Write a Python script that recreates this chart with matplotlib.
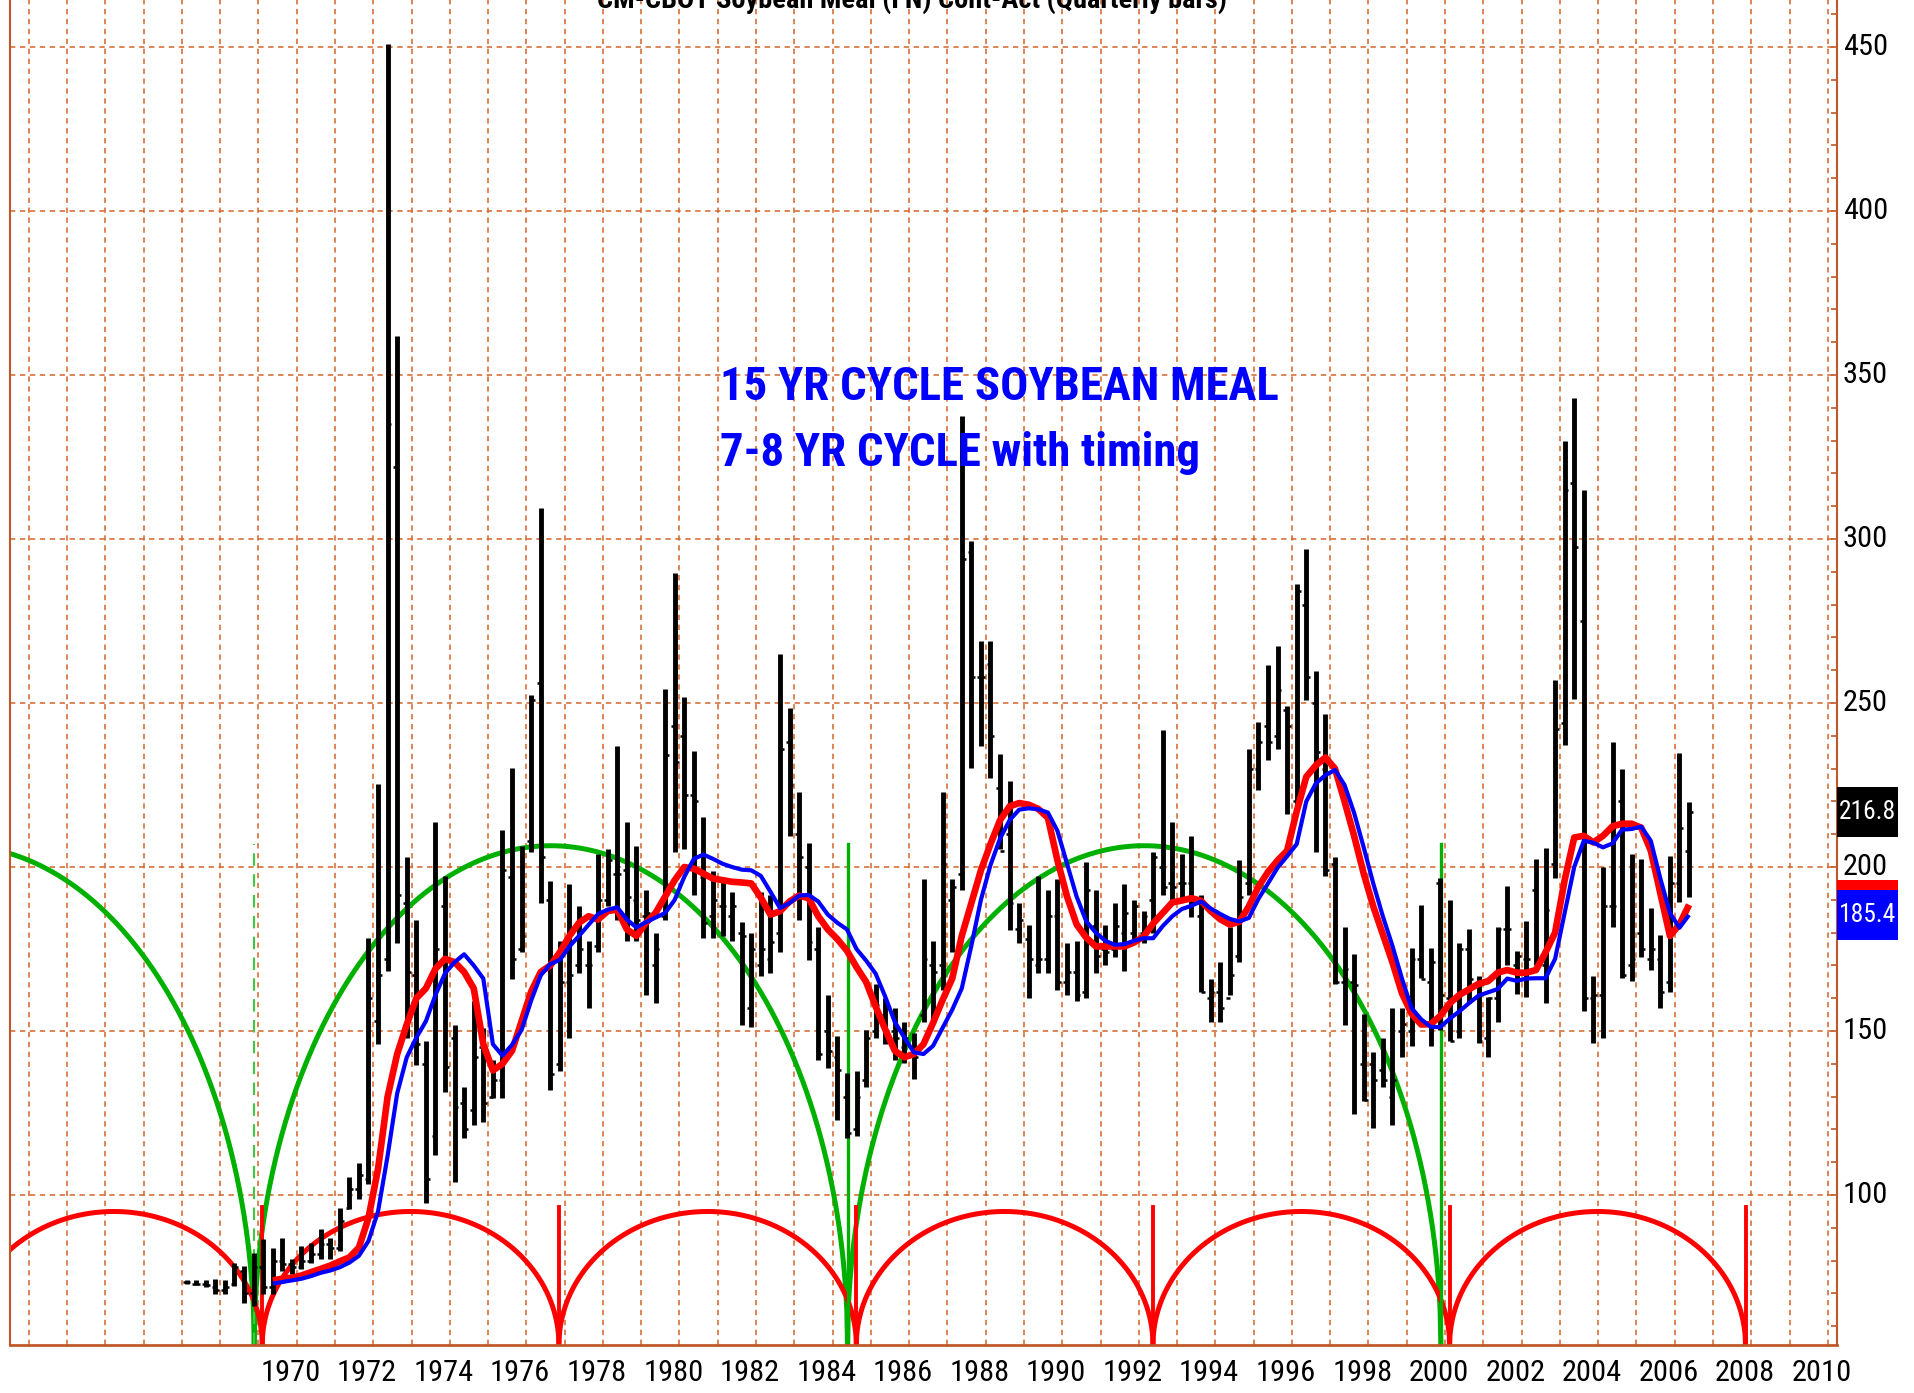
import matplotlib
matplotlib.use('Agg')
import matplotlib.pyplot as plt
import matplotlib.transforms as mtransforms
from matplotlib.patches import Rectangle
from matplotlib import font_manager
from matplotlib.font_manager import FontProperties
import numpy as np

# ---------------- data (quarterly bars, Q1 1968 .. Q2 2007) ----------------
first_year = 1968
high = [74, 74, 74, 74.3,  74, 79.4, 78.4, 82.4,  86.5, 84, 87, 80.4,  84.4, 85.5, 89.6, 87,
        96.2, 105.4, 109.9, 178.3,  225.3, 451, 362, 203,  184, 147, 213.8, 197.3,
        151.9, 133, 159.3, 151,  141.2, 211.3, 230.2, 206.3,  252.5, 309.4, 195.6, 177.5,
        194.8, 188.2, 177.5, 203.9,  205.5, 236.8, 213.8, 206.3,  193.1, 180, 254.2, 289.6,
        251.9, 235.5, 215.4, 198.9,  196.4, 192.3, 183.2, 180,  192.3, 191.5, 264.9, 248.4,
        222.8, 207.2, 181.6, 161,  148.6, 137.1, 137.9, 150.3,  164.3, 160.2, 156.9, 152.8,
        149.5, 196.4, 177.5, 222.8,  196.4, 337.4, 299.5, 269,  269, 234.4, 226.1, 189,
        182.4, 197.3, 193.1, 196.4,  176.7, 177.5, 201.4, 193.1,  182.4, 189, 194.8, 189.8,
        186.6, 204.7, 241.8, 213.8,  203.9, 209.6, 191.5, 166,  170.9, 181.6, 202.2, 236,
        244.3, 261.6, 267.4, 249.2,  286.3, 297, 259.9, 246.7,  203, 181.6, 173.4, 155.2,
        143.7, 147.8, 156.9, 156.9,  175.2, 188.4, 175.2, 196.7,  190.1, 176.9, 181, 166.9,
        160.3, 181.8, 194.2, 174.4,  183.5, 202.5, 205.8, 257,  329.8, 343, 314.9, 166.9,
        200, 238, 229.8, 204.1,  202.5, 187.6, 179.3, 203.3,  234.7, 219.8]
low = [73, 72.5, 72, 69.7,  69.7, 72.3, 67.2, 66.2,  69.7, 69.7, 77, 76,  77.4, 79.4, 80.4, 80.4,
       83, 95.7, 98.7, 103.3,  146.1, 168.4, 176.7, 147.8,  139.6, 97.5, 112.3, 131.3,
       104, 117.3, 121.4, 122.2,  129.7, 129.7, 166, 174.2,  204.7, 189, 132, 137.9,
       147.8, 167.6, 156.9, 174.2,  188.2, 184, 177.5, 177.5,  161, 158.5, 184, 204.7,
       205.5, 191.5, 178.3, 178.3,  179.1, 177.5, 151.9, 151.1,  166.8, 167.6, 174.2, 209.6,
       184, 171.7, 141.2, 138.7,  123, 117.3, 118.1, 132.9,  147.8, 146.1, 141.2, 140.4,
       135.5, 152.8, 152.8, 162.6,  174.2, 193.1, 230.2, 236.8,  227, 205.5, 180.8, 176.7,
       160.2, 167.6, 167.6, 162.6,  161, 159.3, 160.2, 167.6,  170, 172.5, 168.4, 177.5,
       176.7, 180, 191.5, 189,  189.8, 184.9, 161.8, 152.7,  152.7, 161, 170.9, 191.5,
       223.6, 232.7, 236, 216.2,  218.7, 250.9, 204.7, 197.3,  164.3, 151.9, 124.7, 128.8,
       120.6, 132.9, 121.4, 142,  145.5, 166.1, 145.5, 150.4,  147.1, 147.9, 158.7, 146.3,
       142.1, 152.9, 170.2, 161.2,  160.3, 170.2, 158.7, 196.7,  237.2, 251.2, 156.2, 146.3,
       147.9, 181.8, 166.1, 165.3,  172.7, 168.6, 157, 162,  189.3, 190.9]
open_ = [73.5, 73, 73, 72,  71, 73, 77, 70,  78, 72, 80, 79,  78, 80, 82, 85,
         84, 96, 102, 105,  153, 172, 322, 189,  167, 140, 118, 188,
         148, 128, 126, 145,  130, 135, 197, 175,  208, 256, 190, 140,
         165, 170, 170, 176,  190, 198, 199, 190,  185, 170, 185, 243,
         240, 222, 197, 185,  188, 185, 180, 157,  170, 172, 180, 238,
         210, 200, 175, 150,  142, 130, 120, 135,  150, 155, 150, 145,
         145, 155, 170, 170,  190, 198, 296, 258,  262, 224, 210, 181,
         178, 170, 172, 185,  165, 168, 162, 182,  175, 175, 180, 180,
         180, 190, 200, 195,  195, 195, 185, 160,  162, 160, 173, 195,
         230, 243, 240, 248,  220, 280, 250, 230,  201, 165, 165, 140,
         140, 138, 130, 150,  150, 172, 165, 195,  160, 150, 175, 160,
         148, 160, 181, 170,  172, 193, 170, 201,  244, 317, 275, 160,
         161, 188, 220, 170,  180, 172, 172, 165,  195, 205]
close = [73.5, 73, 72.5, 71,  72, 78, 70, 78,  72, 80, 79, 78,  80, 82, 85, 84,
         92, 102, 106, 160,  167, 335, 191.5, 168,  146, 105, 175, 139,
         127, 120, 142, 128,  135, 199, 172, 179,  251, 203, 137, 165,
         167, 175, 170, 190,  202, 198, 191, 184,  186, 175, 234, 232,
         222, 220, 183, 190,  188, 188, 179, 175,  175, 177, 236, 225,
         203, 177, 143, 144,  138, 119, 130, 148,  158, 150, 148, 148,
         142, 172, 168, 201,  194, 294, 258, 258,  240, 205, 189, 184,
         172, 172, 185, 165,  168, 161, 193, 173,  174, 182, 186, 188,
         185, 203, 194, 194,  195, 189, 162, 162,  157, 167, 191, 230,
         238, 238, 254, 243,  284, 258, 235, 199,  165, 169, 164, 129,
         135, 135, 135, 152,  172, 166, 171, 161,  147, 175, 166, 147,
         160, 181, 181, 173,  172, 172, 187, 242,  315, 297.5, 160, 161,
         188, 188, 167, 172,  175, 175, 162, 195,  212, 216.8]

# moving averages, Q2 1970 .. Q2 2007
ma_start_index = 9
red_ma = [74, 74.5, 74.8,  75.5, 76.5, 77.5, 78.5,  79.8, 81, 84, 93,  108, 130, 143, 152,
          160, 163, 169, 172,  171, 168, 163, 146,  138, 140, 144, 153,  162, 168, 170, 174,
          179, 183, 185, 184,  186.6, 187, 181, 179,  183, 186, 191, 196,  200, 199.5, 198, 196.5,
          196, 195.5, 195.3, 195,  190.7, 185.5, 186.5, 189.5,  191.3, 190.5, 185, 181,
          178, 174.5, 169.5, 165,  157.5, 150.5, 144, 142,  143, 146, 152.5, 159.5,
          166, 179, 189, 199,  207, 214.3, 218.5, 219.5,  219, 217.7, 215, 202,
          191, 182.5, 178.5, 175.8,  175.8, 175.8, 175.8, 177,  178.8, 182.8, 186, 189.2,
          189.8, 190.5, 189.7, 186.6,  184.1, 182.5, 183.3, 188,  194, 198.5, 202, 205,
          217, 227.5, 231, 233.4,  230, 220, 209.5, 198,  188, 179.5, 171, 161.5,
          155.3, 152, 152.1, 154.6,  158.5, 161, 162.7, 164.4,  165.2, 167.8, 168.6, 167.8,
          167.8, 168.6, 174, 180,  196, 209, 209.5, 207.5,  209.5, 212.4, 213.2, 213.2,
          212, 205, 192, 179,  182.5, 188.5]
blue_ma = [73, 73.5, 74,  74.5, 75.3, 76.3, 77,  78, 79.4, 81.5, 86,  95, 112, 131, 142,
           148, 153, 161, 167.6,  171, 173.4, 170, 166,  146, 142.5, 145.8, 150.3,
           159.3, 167, 170.4, 171.7,  175.8, 179, 182.4, 185.7,  187, 187.7, 184, 181.6,
           183.2, 184.6, 186, 190,  197, 202.5, 203.8, 202.5,  201, 200, 199.2, 199,
           197.3, 192.5, 187.5, 189,  191.3, 191.5, 189.5, 185.5,  183, 181, 175, 171.5,
           167.5, 160.5, 152.8, 148,  143.5, 143, 145.5, 151,  156.5, 163, 176, 190,
           200.6, 208.7, 214.3, 217.5,  217.9, 217.6, 216.6, 211,  201, 191, 183.5, 180,
           177.5, 176.3, 176.5, 177.5,  178.3, 178.3, 182, 185,  187.2, 188.2, 189.5, 187.4,
           185.7, 184.2, 183.4, 184.5,  190.3, 195, 199.8, 203.3,  207, 220, 225.5, 228,
           229.6, 225, 216.5, 206,  195, 185, 176, 166,  157, 153.6, 151.3, 151.2,
           153.8, 156, 158.5, 160.8,  161.8, 162.8, 166, 165.3,  166, 166.1, 166.1, 172,
           186, 200, 208, 207.4,  206, 207.2, 211.4, 211.6,  212.3, 208, 196.5, 186,
           181.5, 185.4]

# cycle timing (trough dates, in years) and arc heights
red_troughs = [1962.35, 1970.1, 1977.85, 1985.62, 1993.37, 2001.12, 2008.85]
red_arc_peak = 95.0
green_troughs = [1954.39, 1969.89, 1985.39, 2000.89]
green_arc_peak = 206.5

last_close_label = 216.8
red_label = 188.5
blue_label = 185.4

year_labels = list(range(1970, 2011, 2))
y_ticks = [100, 150, 200, 250, 300, 350, 400, 450]

title_text = 'CM-CBOT Soybean Meal (FN) Cont-Act (Quarterly bars)'
note_lines = ['15 YR CYCLE SOYBEAN MEAL', '7-8 YR CYCLE with timing']


# ---------------- fonts: prefer a narrow sans face ----------------
def _stretch_val(st):
    if isinstance(st, (int, float)):
        return st
    return {'ultra-condensed': 100, 'extra-condensed': 200, 'condensed': 300,
            'semi-condensed': 400, 'normal': 500}.get(str(st), 500)


def _weight_val(w):
    if isinstance(w, (int, float)):
        return w
    return {'bold': 700, 'semibold': 600, 'demibold': 600, 'heavy': 800, 'black': 900,
            'light': 300, 'normal': 400, 'regular': 400, 'medium': 500}.get(str(w), 400)


def pick_font(bold):
    pref = ['liberation sans narrow', 'roboto condensed', 'noto sans', 'open sans',
            'dejavu sans', 'lato', 'inter']
    best, best_score = None, None
    for f in font_manager.fontManager.ttflist:
        nm = f.name.lower()
        fn = f.fname.lower()
        sv = _stretch_val(f.stretch)
        narrow = ('narrow' in nm or 'condensed' in nm or 'narrow' in fn or
                  'condensed' in fn or sv < 500)
        if not narrow:
            continue
        if 'mono' in nm or 'cjk' in nm or 'serif' in nm or 'italic' in str(f.style).lower() \
                or 'italic' in fn:
            continue
        if 'extracondensed' in fn or 'extra-condensed' in fn or 'ultra' in fn:
            continue
        w = _weight_val(f.weight)
        score = abs(w - (700 if bold else 400))
        rank = len(pref)
        for i, p in enumerate(pref):
            if nm.startswith(p):
                rank = i
                break
        score += rank * 10
        if 'semicondensed' in fn or 'semi' in fn:
            score += 5
        if best_score is None or score < best_score:
            best, best_score = f, score
    if best is not None:
        return FontProperties(fname=best.fname)
    return FontProperties(family='Liberation Sans', weight='bold' if bold else 'normal')


FP = pick_font(False)
FPB = pick_font(True)

# ---------------- drawing ----------------
GRID = '#D2642A'
FRAME = '#C0582A'

fig = plt.figure(figsize=(19.14, 13.93), dpi=100)
ax = fig.add_axes([10 / 1914, 48 / 1393, 1827 / 1914, 1345 / 1393])
XMIN, XMAX = 1963.51, 2011.24
YMIN, YMAX = 54.3, 464.3
ax.set_xlim(XMIN, XMAX)
ax.set_ylim(YMIN, YMAX)
renderer = fig.canvas.get_renderer()

n = len(high)
assert len(low) == n and len(open_) == n and len(close) == n
xs = np.array([first_year + 0.125 + 0.25 * i for i in range(n)])

# grid
for yv in y_ticks:
    ax.axhline(yv, color=GRID, lw=1.1, ls=(0, (3.5, 3)), zorder=1)
for yr in range(1964, 2012):
    ax.axvline(yr, color=GRID, lw=1.1, ls=(0, (3.5, 3)), zorder=1)


def arcs(troughs, peak, color, lw):
    for a, b in zip(troughs[:-1], troughs[1:]):
        c = (a + b) / 2.0
        r = (b - a) / 2.0
        t = np.linspace(a, b, 800)
        y = YMIN + (peak - YMIN) * np.sqrt(np.clip(1 - ((t - c) / r) ** 2, 0, 1))
        ax.plot(t, y, color=color, lw=lw, zorder=2, solid_capstyle='butt')


arcs(green_troughs, green_arc_peak, '#00B000', 3.6)
arcs(red_troughs, red_arc_peak, '#FF0000', 3.6)

# cycle timing markers
for i, t in enumerate(green_troughs[1:]):
    if i == 0:
        ax.plot([t, t], [YMIN, green_arc_peak + 0.5], color='#40C840', lw=1.5,
                ls=(0, (6, 4)), zorder=2)
    else:
        ax.plot([t, t], [YMIN, green_arc_peak + 0.5], color='#00B000', lw=2.4, zorder=2)
for t in red_troughs[1:]:
    ax.plot([t, t], [YMIN, red_arc_peak + 1.5], color='#FF0000', lw=2.8, zorder=2)

# OHLC bars
ax.vlines(xs, low, high, color='black', lw=3.5, zorder=3)
ax.hlines(open_, xs - 0.1, xs, color='black', lw=1.8, zorder=3)
ax.hlines(close, xs, xs + 0.1, color='black', lw=1.8, zorder=3)

# moving averages
mx = xs[ma_start_index:ma_start_index + len(red_ma)]
ax.plot(mx, red_ma, color='#FF0000', lw=4.8, zorder=4, solid_joinstyle='round',
        solid_capstyle='butt')
mxb = xs[ma_start_index:ma_start_index + len(blue_ma)]
ax.plot(mxb, blue_ma, color='#0000FF', lw=3.0, zorder=5, solid_joinstyle='round',
        solid_capstyle='butt')

# spines / ticks
ax.spines['top'].set_visible(False)
for s in ['left', 'right', 'bottom']:
    ax.spines[s].set_color(FRAME)
    ax.spines[s].set_linewidth(1.5)
ax.spines['bottom'].set_linewidth(2.0)

ax.yaxis.tick_right()
ax.set_yticks(y_ticks)
ax.set_yticklabels([])
ax.set_yticks(np.arange(60, 461, 10), minor=True)
ax.tick_params(axis='y', which='both', direction='in', length=4, width=1.2,
               color=FRAME, right=True, left=False)
ax.set_xticks([])


def fit(txt, target_px):
    w = txt.get_window_extent(renderer).width
    size = txt.get_fontsize() * target_px / w
    txt.set_fontsize(size)
    return size


bt = mtransforms.blended_transform_factory(ax.transData, ax.transAxes)
rt = mtransforms.blended_transform_factory(ax.transAxes, ax.transData)

probe = ax.text(0, 0, '1970', fontproperties=FP, fontsize=20, transform=ax.transAxes)
lab_size = min(fit(probe, 60), 25)
probe.remove()

for yr in year_labels:
    ax.text(yr + 0.05, -28 / 1345, str(yr), transform=bt, ha='left', va='center',
            fontproperties=FP, fontsize=lab_size, color='black', clip_on=False)

for v in y_ticks:
    ax.text(1.0 + 6 / 1827, v, str(v), transform=rt, ha='left', va='center',
            fontproperties=FP, fontsize=lab_size, color='black', clip_on=False)

# value boxes on the price axis
bw = 61 / 1827
bh = 50 / 3.28
probe = ax.text(0, 0, '216.8', fontproperties=FP, fontsize=20, transform=ax.transAxes)
box_size = min(fit(probe, 57), 25)
probe.remove()


def value_box(val, text, face, zo):
    ax.add_patch(Rectangle((1.0, val - bh / 2), bw, bh, transform=rt, facecolor=face,
                           edgecolor='none', clip_on=False, zorder=zo))
    if text:
        ax.text(1.0 + bw / 2, val, text, transform=rt, ha='center', va='center',
                fontproperties=FP, fontsize=box_size, color='white', clip_on=False,
                zorder=zo + 0.5)


value_box(last_close_label, f'{last_close_label:.1f}', 'black', 10)
value_box(red_label, '', '#FF0000', 11)
value_box(blue_label, f'{blue_label:.1f}', '#0000FF', 12)

# annotation
t1 = ax.text(1982.06, 342.4, note_lines[0], ha='left', va='baseline', fontsize=30,
             fontproperties=FPB, color='#0000FF', zorder=6)
s1 = fit(t1, 559)
t2 = ax.text(1982.06, 322.3, note_lines[1], ha='left', va='baseline',
             fontproperties=FPB, color='#0000FF', zorder=6)
t2.set_fontsize(s1)

# title (cut by the top of the picture)
tt = fig.text(912 / 1914, 1.0, title_text, ha='center', va='center', fontsize=22,
              fontproperties=FPB, color='black')
fit(tt, 629)

fig.savefig('out.png', dpi=100)
